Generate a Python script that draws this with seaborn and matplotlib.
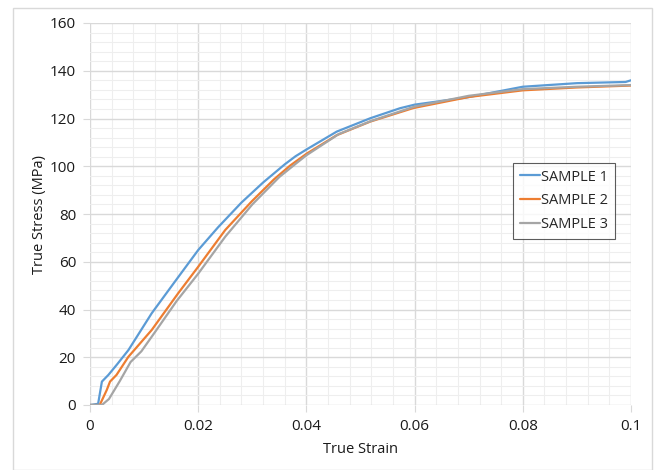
import matplotlib
matplotlib.use("Agg")
import matplotlib.pyplot as plt
import seaborn as sns
import pandas as pd
from matplotlib.ticker import MultipleLocator, FuncFormatter
from matplotlib.patches import Rectangle

strain1 = [0, 0.0015, 0.0022, 0.0034, 0.0050, 0.0071, 0.0114, 0.0157, 0.0200, 0.0237, 0.0280,
           0.0320, 0.0360, 0.0380, 0.0400, 0.0456, 0.0518, 0.0573, 0.0600, 0.0696, 0.0800, 0.0900, 0.0990, 0.1000]
stress1 = [0, 0.5, 9.8, 12.6, 17.0, 23.0, 38.4, 51.7, 64.9, 74.5, 84.8,
           93.2, 100.8, 104.2, 107.0, 114.5, 120.1, 124.3, 125.8, 128.8, 133.3, 134.8, 135.3, 136.0]

strain2 = [0, 0.0018, 0.0031, 0.0037, 0.0049, 0.0071, 0.0114, 0.0163, 0.0200, 0.0250, 0.0299,
           0.0340, 0.0370, 0.0400, 0.0456, 0.0518, 0.0598, 0.0700, 0.0800, 0.0900, 0.1000]
stress2 = [0, 0, 6.3, 9.8, 12.6, 20.2, 31.4, 46.8, 57.9, 73.3, 85.3,
           94.5, 100.3, 105.2, 113.0, 118.7, 124.4, 129.0, 131.8, 133.0, 133.8]

strain3 = [0, 0.0022, 0.0035, 0.0055, 0.0075, 0.0095, 0.0120, 0.0160, 0.0200, 0.0250, 0.0300,
           0.0350, 0.0380, 0.0400, 0.0460, 0.0520, 0.0600, 0.0700, 0.0800, 0.0900, 0.1000]
stress3 = [0, 0, 2.5, 10.0, 18.0, 22.5, 30.5, 43.5, 55.0, 70.5, 84.0,
           95.5, 101.0, 104.6, 113.5, 119.0, 125.0, 129.5, 132.3, 133.3, 134.0]

labels = ["SAMPLE 1", "SAMPLE 2", "SAMPLE 3"]
colors = ["#5B9BD5", "#ED7D31", "#A5A5A5"]

sns.set_style("white")
plt.rcParams['font.family'] = ['Open Sans', 'DejaVu Sans']

fig = plt.figure(figsize=(6.54, 4.70), dpi=100)
ax = fig.add_axes([90/654, 65/470, 541/654, 382/470])

for sx, sy, lab, col in zip([strain1, strain2, strain3], [stress1, stress2, stress3], labels, colors):
    df = pd.DataFrame({"strain": sx, "stress": sy})
    sns.lineplot(data=df, x="strain", y="stress", sort=False, color=col, lw=1.6, label=lab, ax=ax)

ax.set_xlim(0, 0.1)
ax.set_ylim(0, 160)
ax.xaxis.set_major_locator(MultipleLocator(0.02))
ax.xaxis.set_minor_locator(MultipleLocator(0.004))
ax.yaxis.set_major_locator(MultipleLocator(20))
ax.yaxis.set_minor_locator(MultipleLocator(4))
ax.xaxis.set_major_formatter(FuncFormatter(lambda v, p: "0" if abs(v) < 1e-9 else f"{v:g}"))
ax.grid(which="major", color="#d9d9d9", lw=1.0)
ax.grid(which="minor", color="#eeeeee", lw=0.8)
ax.set_axisbelow(True)
for s in ax.spines.values():
    s.set_visible(False)
ax.tick_params(axis="both", which="major", length=5, color="#d9d9d9", labelsize=11,
               labelcolor="#1a1a1a", pad=5, bottom=True, left=True)
ax.tick_params(which="minor", length=0)

ax.set_xlabel("True Strain", fontsize=10.5, color="#1a1a1a", labelpad=6)
ax.set_ylabel("True Stress (MPa)", fontsize=10.5, color="#1a1a1a", labelpad=2)

leg = ax.legend(loc="upper left", bbox_to_anchor=((513-90)/541, (405-163)/382),
                fontsize=10.5, frameon=True, fancybox=False, handlelength=1.4,
                handletextpad=0.1, borderpad=0.45, labelspacing=0.6, borderaxespad=0)
leg.get_frame().set_edgecolor("#333333")
leg.get_frame().set_linewidth(0.8)

fig.patches.append(Rectangle((13/654, 0/470), 639/654, 462/470, transform=fig.transFigure,
                             fill=False, edgecolor="#d9d9d9", lw=1.0))

fig.savefig("out.png", dpi=100)
